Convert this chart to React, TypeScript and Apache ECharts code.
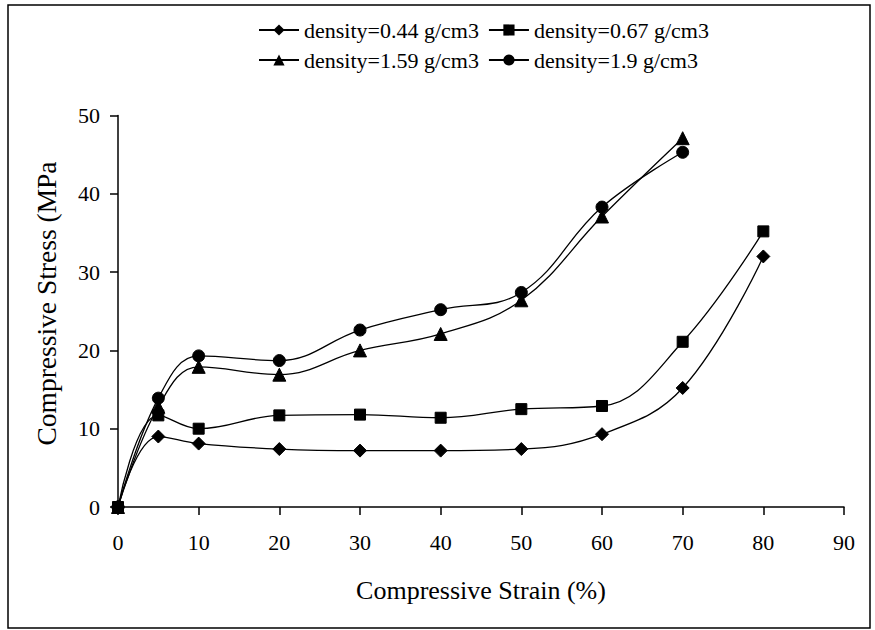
import React, { useEffect, useRef } from "react";
import * as echarts from "echarts";

const strainA = [0, 5, 10, 20, 30, 40, 50, 60, 70, 80];
const stress044 = [0, 9, 8.1, 7.4, 7.2, 7.2, 7.4, 9.3, 15.2, 32];
const stress067 = [0, 11.7, 10, 11.7, 11.8, 11.4, 12.5, 12.9, 21.1, 35.2];
const strainB = [0, 5, 10, 20, 30, 40, 50, 60, 70];
const stress159 = [0, 12.8, 17.9, 16.9, 20, 22.1, 26.4, 37.1, 47.1];
const stress190 = [0, 13.9, 19.3, 18.7, 22.6, 25.2, 27.4, 38.3, 45.3];

const names = [
  "density=0.44 g/cm3",
  "density=0.67 g/cm3",
  "density=1.59 g/cm3",
  "density=1.9 g/cm3",
];
const xTicks = [0, 90, 10];
const yTicks = [0, 50, 10];
const xTitle = "Compressive Strain (%)";
const yTitle = "Compressive Stress (MPa";

const FONT = "'Liberation Serif', 'Times New Roman', serif";

function pairs(xs: number[], ys: number[]) {
  return xs.map((x, i) => [x, ys[i]]);
}

export default function App() {
  const ref = useRef<HTMLDivElement>(null);
  useEffect(() => {
    if (!ref.current) return;
    const chart = echarts.init(ref.current, undefined, { renderer: "svg" });
    const mk = (name: string, data: number[][], symbol: string, size: number) => ({
      name,
      type: "line",
      data,
      smooth: 0.4,
      symbol,
      symbolSize: size,
      lineStyle: { color: "#000", width: 1.3 },
      itemStyle: { color: "#000", borderColor: "#000" },
      emphasis: { disabled: true },
    });
    const legendBase = {
      left: 253,
      orient: "horizontal",
      itemWidth: 40,
      itemHeight: 14,
      itemGap: 9,
      textStyle: { fontSize: 22, color: "#000", fontFamily: FONT },
      selectedMode: false,
    };
    chart.setOption({
      animation: false,
      backgroundColor: "#fff",
      textStyle: { fontFamily: FONT },
      legend: [
        { ...legendBase, top: 14, data: [names[0], names[1]] },
        { ...legendBase, top: 44, data: [names[2], names[3]] },
      ],
      graphic: [
        {
          type: "rect",
          shape: { x: 8, y: 5, width: 862, height: 623 },
          style: { fill: "none", stroke: "#000", lineWidth: 1.5 },
          silent: true,
        },
        {
          type: "text",
          x: 46,
          y: 303.5,
          rotation: Math.PI / 2,
          silent: true,
          style: {
            text: yTitle,
            fill: "#000",
            font: `27.5px ${FONT}`,
            align: "center",
            verticalAlign: "middle",
          },
        },
      ],
      grid: { left: 118, right: 31, top: 115.5, bottom: 123 },
      xAxis: {
        type: "value",
        min: xTicks[0],
        max: xTicks[1],
        interval: xTicks[2],
        name: xTitle,
        nameLocation: "middle",
        nameGap: 70,
        nameTextStyle: { fontSize: 26, color: "#000", fontFamily: FONT },
        axisLine: { lineStyle: { color: "#000", width: 1.5 } },
        axisTick: { show: true, inside: false, length: 8, lineStyle: { color: "#000", width: 1.5 } },
        axisLabel: { fontSize: 22, color: "#000", margin: 24, fontFamily: FONT },
        splitLine: { show: false },
      },
      yAxis: {
        type: "value",
        min: yTicks[0],
        max: yTicks[1],
        interval: yTicks[2],
        axisLine: { show: true, lineStyle: { color: "#000", width: 1.5 } },
        axisTick: { show: true, inside: false, length: 8, lineStyle: { color: "#000", width: 1.5 } },
        axisLabel: { fontSize: 22, color: "#000", margin: 18, fontFamily: FONT },
        splitLine: { show: false },
      },
      series: [
        mk(names[0], pairs(strainA, stress044), "diamond", 13),
        mk(names[1], pairs(strainA, stress067), "rect", 11),
        mk(names[2], pairs(strainB, stress159), "triangle", 13),
        mk(names[3], pairs(strainB, stress190), "circle", 12),
      ],
    });
    return () => chart.dispose();
  }, []);
  return (
    <div
      ref={ref}
      style={{ position: "absolute", left: 0, top: 0, width: 875, height: 630 }}
    />
  );
}
